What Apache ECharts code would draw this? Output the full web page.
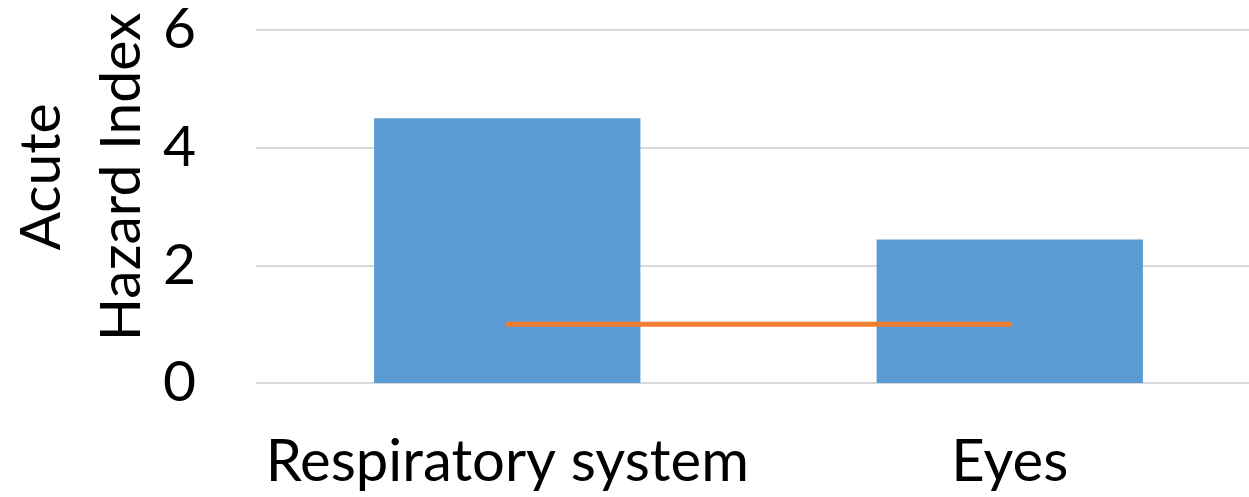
<!DOCTYPE html>
<html><head><meta charset="utf-8">
<script src="https://cdn.jsdelivr.net/npm/echarts@6/dist/echarts.min.js"></script>
<style>html,body{margin:0;padding:0;background:#fff;overflow:hidden;width:1249px;height:497px}#c{width:1261px;height:497px}</style>
</head><body><div id="c"></div>
<script>
var categories = ['Respiratory system', 'Eyes'];
var hazardIndex = [4.50, 2.44];
var thresholdLine = [1, 1];
var yTicks = [0, 2, 4, 6];
var yTitle = 'Acute\nHazard Index';

var FONT = 'Lato';
var chart = echarts.init(document.getElementById('c'), null, {renderer: 'canvas'});
chart.setOption({
  animation: false,
  backgroundColor: '#fff',
  grid: {left: 256, right: 0, top: 30, bottom: 114, containLabel: false},
  xAxis: {
    type: 'category', data: categories,
    axisLine: {show: false}, axisTick: {show: false},
    axisLabel: {fontFamily: FONT, fontSize: 58, color: '#000', margin: 50, interval: 0}
  },
  yAxis: {
    type: 'value', min: yTicks[0], max: yTicks[yTicks.length - 1], interval: 2,
    axisLine: {show: false}, axisTick: {show: false},
    splitLine: {lineStyle: {color: '#D9D9D9', width: 2}},
    axisLabel: {fontFamily: FONT, fontSize: 57, color: '#000', margin: 60}
  },
  graphic: [{
    type: 'text', x: 82, y: 177, rotation: Math.PI / 2,
    style: {text: yTitle, font: '57px ' + FONT, fill: '#000', textAlign: 'center', textVerticalAlign: 'middle', lineHeight: 80}
  }],
  series: [{
    type: 'bar', data: hazardIndex, barWidth: '53%',
    itemStyle: {color: '#5B9BD5'}
  }, {
    type: 'line', data: thresholdLine, symbol: 'none',
    lineStyle: {color: '#ED7D31', width: 5, cap: 'round'}
  }]
});
</script></body></html>
